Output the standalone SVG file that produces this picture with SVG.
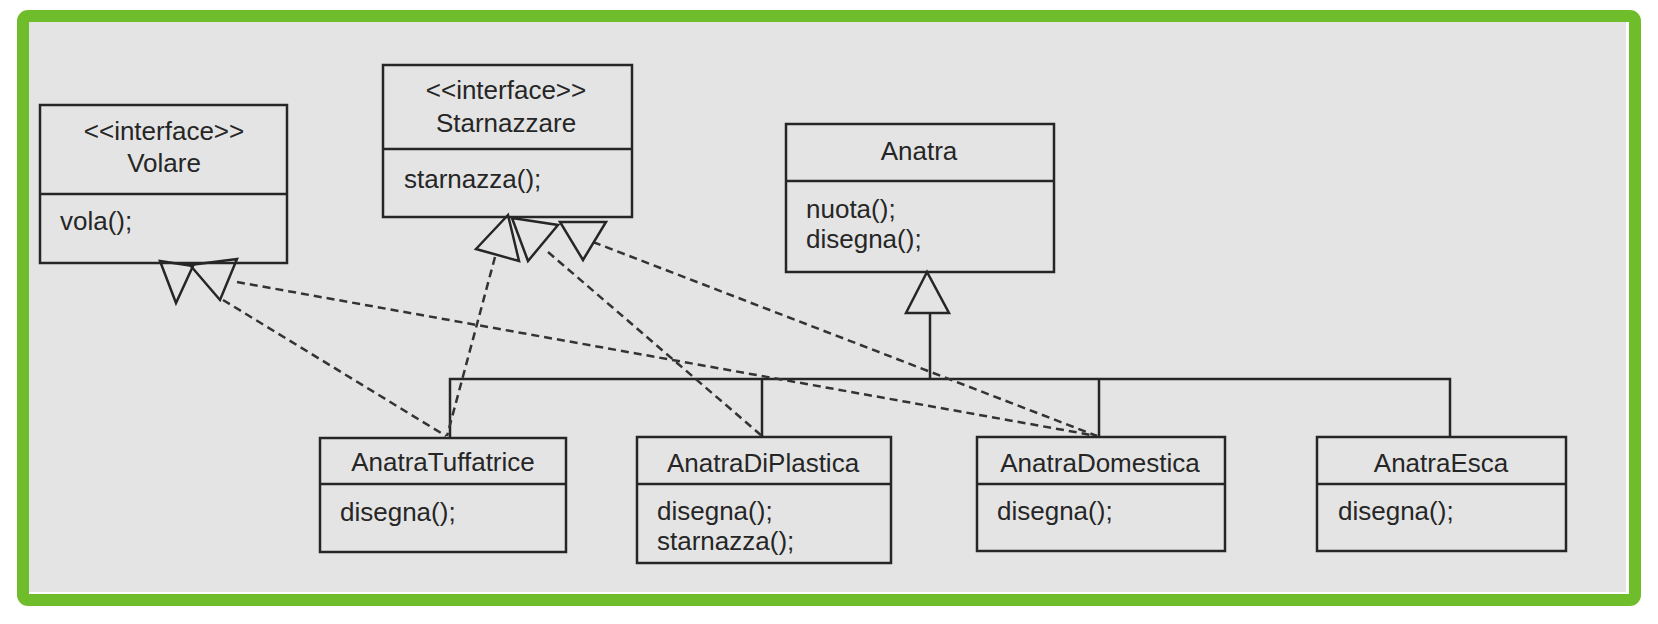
<svg xmlns="http://www.w3.org/2000/svg" width="1658" height="624" viewBox="0 0 1658 624">
<style>
.box{fill:none;stroke:#262626;stroke-width:2.5}
.t{font-family:"Liberation Sans",Arial,sans-serif;font-size:26px;fill:#262626}
.c{text-anchor:middle}
.solid{fill:none;stroke:#262626;stroke-width:2.5}
.dash{fill:none;stroke:#333;stroke-width:2.5;stroke-dasharray:8 5}
.head{fill:none;stroke:#262626;stroke-width:2.5;stroke-linejoin:miter}
</style>
<rect x="0" y="0" width="1658" height="624" fill="#ffffff"/>
<rect x="23" y="16" width="1612" height="584" rx="5" fill="#ffffff" stroke="#70bd2b" stroke-width="12"/>
<rect x="29" y="22" width="1597" height="570" fill="#e4e4e4"/>

<g id="connectors">
  <path class="solid" d="M450,437 V379 H1450 V437 M762,379 V437 M1099,379 V437 M930,379 V313"/>
  <polygon class="head" points="927,272 906,313 949,313"/>
  <line class="dash" x1="223" y1="300" x2="446" y2="436"/>
  <line class="dash" x1="237" y1="282" x2="1097" y2="436"/>
  <line class="dash" x1="495" y1="257" x2="447" y2="436"/>
  <line class="dash" x1="548" y1="252" x2="762" y2="436"/>
  <line class="dash" x1="593" y1="242" x2="1097" y2="436"/>
  <polygon class="head" points="160,261 193,266 176,303"/>
  <polygon class="head" points="190,265 237,259 220,300"/>
  <polygon class="head" points="508,215 476,249 519,261"/>
  <polygon class="head" points="512,218 558,225 528,261"/>
  <polygon class="head" points="560,222 606,222 583,260"/>
</g>

<g id="Volare">
  <rect class="box" x="40" y="105" width="247" height="158"/>
  <line class="box" x1="40" y1="194" x2="287" y2="194"/>
  <text class="t c" x="164" y="140">&lt;&lt;interface&gt;&gt;</text>
  <text class="t c" x="164" y="172">Volare</text>
  <text class="t" x="60" y="230">vola();</text>
</g>

<g id="Starnazzare">
  <rect class="box" x="383" y="65" width="249" height="152"/>
  <line class="box" x1="383" y1="149" x2="632" y2="149"/>
  <text class="t c" x="506" y="99">&lt;&lt;interface&gt;&gt;</text>
  <text class="t c" x="506" y="132">Starnazzare</text>
  <text class="t" x="404" y="188">starnazza();</text>
</g>

<g id="Anatra">
  <rect class="box" x="786" y="124" width="268" height="148"/>
  <line class="box" x1="786" y1="181" x2="1054" y2="181"/>
  <text class="t c" x="919" y="160">Anatra</text>
  <text class="t" x="806" y="218">nuota();</text>
  <text class="t" x="806" y="248">disegna();</text>
</g>

<g id="AnatraTuffatrice">
  <rect class="box" x="320" y="438" width="246" height="114"/>
  <line class="box" x1="320" y1="484" x2="566" y2="484"/>
  <text class="t c" x="443" y="471">AnatraTuffatrice</text>
  <text class="t" x="340" y="521">disegna();</text>
</g>

<g id="AnatraDiPlastica">
  <rect class="box" x="637" y="437" width="254" height="126"/>
  <line class="box" x1="637" y1="484" x2="891" y2="484"/>
  <text class="t c" x="763" y="472">AnatraDiPlastica</text>
  <text class="t" x="657" y="520">disegna();</text>
  <text class="t" x="657" y="550">starnazza();</text>
</g>

<g id="AnatraDomestica">
  <rect class="box" x="977" y="437" width="248" height="114"/>
  <line class="box" x1="977" y1="484" x2="1225" y2="484"/>
  <text class="t c" x="1100" y="472">AnatraDomestica</text>
  <text class="t" x="997" y="520">disegna();</text>
</g>

<g id="AnatraEsca">
  <rect class="box" x="1317" y="437" width="249" height="114"/>
  <line class="box" x1="1317" y1="484" x2="1566" y2="484"/>
  <text class="t c" x="1441" y="472">AnatraEsca</text>
  <text class="t" x="1338" y="520">disegna();</text>
</g>
</svg>
